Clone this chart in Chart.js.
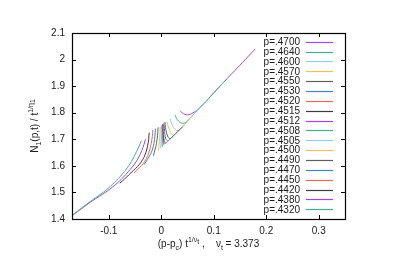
<!DOCTYPE html>
<html><head><meta charset="utf-8">
<script src="https://cdn.jsdelivr.net/npm/chart.js@4/dist/chart.umd.min.js"></script>
<style>html,body{margin:0;padding:0;background:#fff}canvas{display:block}</style>
</head><body>
<canvas id="c" width="397" height="280"></canvas>
<script>
// ---- data ----
const pLabels = ['p=.4700','p=.4640','p=.4600','p=.4570','p=.4550','p=.4530','p=.4520','p=.4515','p=.4512','p=.4508','p=.4505','p=.4500','p=.4490','p=.4470','p=.4450','p=.4420','p=.4380','p=.4320'];
const xTicks = [-0.1, 0, 0.1, 0.2, 0.3];
const xTickLabels = ['-0.1','0','0.1','0.2','0.3'];
const yTicks = [1.4, 1.5, 1.6, 1.7, 1.8, 1.9, 2.0, 2.1];
const yTickLabels = ['1.4','1.5','1.6','1.7','1.8','1.9','2','2.1'];

const x_4700 = [0.036,0.040,0.045,0.050,0.055,0.060,0.065,0.070,0.080,0.090,0.100,0.110,0.120,0.130,0.140,0.150,0.160,0.170,0.179];
const y_4700 = [1.808,1.799,1.794,1.792,1.794,1.799,1.805,1.812,1.832,1.853,1.875,1.896,1.917,1.938,1.958,1.979,2.000,2.021,2.040];
const x_4640 = [0.026,0.029,0.033,0.037,0.041,0.045,0.050,0.060,0.070,0.080,0.090,0.100,0.110,0.124];
const y_4640 = [1.792,1.779,1.768,1.762,1.760,1.762,1.770,1.790,1.811,1.832,1.853,1.875,1.896,1.925];
const x_4600 = [0.017,0.019,0.022,0.026,0.030,0.034,0.040,0.050,0.060,0.070,0.080,0.087];
const y_4600 = [1.777,1.762,1.748,1.738,1.733,1.735,1.746,1.768,1.790,1.811,1.832,1.847];
const x_4570 = [0.011,0.013,0.016,0.019,0.023,0.030,0.040,0.050,0.059];
const y_4570 = [1.767,1.750,1.733,1.720,1.715,1.726,1.746,1.768,1.788];
const x_4550 = [0.007,0.008,0.010,0.013,0.017,0.020,0.030,0.041];
const y_4550 = [1.765,1.745,1.725,1.708,1.702,1.707,1.726,1.748];
const x_4530 = [0.005,0.006,0.007,0.009,0.012,0.016,0.022];
const y_4530 = [1.762,1.740,1.718,1.700,1.694,1.699,1.711];
const x_4520 = [0.004,0.004,0.005,0.006,0.009,0.013];
const y_4520 = [1.758,1.735,1.712,1.695,1.686,1.693];
const x_4515 = [0.003,0.003,0.004,0.005,0.008];
const y_4515 = [1.756,1.730,1.705,1.688,1.684];
const x_4512 = [0.002,0.002,0.003,0.004,0.0055];
const y_4512 = [1.754,1.728,1.700,1.683,1.679];
const x_4508 = [0.001,0.001,0.0015,0.002];
const y_4508 = [1.752,1.725,1.698,1.672];
const x_4505 = [0.000,0.000,-0.0005,-0.001];
const y_4505 = [1.750,1.722,1.695,1.666];
const x_4500 = [-0.002,-0.0025,-0.0035,-0.0055];
const y_4500 = [1.748,1.720,1.690,1.658];
const x_4490 = [-0.006,-0.007,-0.009,-0.012,-0.015];
const y_4490 = [1.745,1.715,1.685,1.660,1.638];
const x_4470 = [-0.011,-0.012,-0.014,-0.017,-0.021,-0.026,-0.033];
const y_4470 = [1.740,1.712,1.685,1.660,1.642,1.625,1.604];
const x_4450 = [-0.016,-0.017,-0.019,-0.022,-0.026,-0.031,-0.037,-0.045,-0.052];
const y_4450 = [1.735,1.710,1.685,1.660,1.638,1.618,1.602,1.588,1.573];
const x_4420 = [-0.023,-0.024,-0.026,-0.029,-0.033,-0.038,-0.045,-0.053,-0.062,-0.070,-0.079];
const y_4420 = [1.725,1.700,1.675,1.652,1.632,1.615,1.598,1.583,1.566,1.550,1.535];
const x_4380 = [-0.030,-0.033,-0.037,-0.042,-0.048,-0.055,-0.063,-0.072,-0.082,-0.092,-0.103,-0.116,-0.130,-0.145,-0.160,-0.172];
const y_4380 = [1.700,1.680,1.658,1.636,1.615,1.596,1.578,1.558,1.538,1.522,1.505,1.488,1.470,1.449,1.427,1.409];
const x_4320 = [-0.038,-0.042,-0.047,-0.052,-0.057,-0.063,-0.070,-0.078,-0.085,-0.093,-0.101,-0.110,-0.120,-0.130,-0.140,-0.150,-0.160,-0.172];
const y_4320 = [1.695,1.675,1.654,1.634,1.616,1.597,1.579,1.560,1.545,1.530,1.516,1.501,1.487,1.473,1.459,1.444,1.429,1.410];

const seriesX = [x_4700,x_4640,x_4600,x_4570,x_4550,x_4530,x_4520,x_4515,x_4512,x_4508,x_4505,x_4500,x_4490,x_4470,x_4450,x_4420,x_4380,x_4320];
const seriesY = [y_4700,y_4640,y_4600,y_4570,y_4550,y_4530,y_4520,y_4515,y_4512,y_4508,y_4505,y_4500,y_4490,y_4470,y_4450,y_4420,y_4380,y_4320];

const palette = ['#a545dd','#3fb08c','#8ccdf1','#f0c060','#606060','#3a88c0','#e66a58','#3c3c3c'];

const datasets = pLabels.map((lab, i) => ({
  label: lab,
  data: seriesX[i].map((x, k) => ({x: x, y: seriesY[i][k]})),
  borderColor: palette[i % 8],
  backgroundColor: palette[i % 8],
  borderWidth: 1,
  pointRadius: 0,
  showLine: true,
  tension: 0.3,
  fill: false,
  order: pLabels.length - i
}));

const FONT = '"Liberation Sans", Arial, sans-serif';
const TXT = '#1a1a1a';

function drawRich(ctx, segs, cx, cy) {
  const big = 10, small = 7;
  let total = 0;
  const w = segs.map(s => {
    ctx.font = (s.m === 'n' ? big : small) + 'px ' + FONT;
    const ww = ctx.measureText(s.t).width;
    total += ww; return ww;
  });
  let x = cx - total / 2;
  ctx.textBaseline = 'alphabetic';
  ctx.textAlign = 'left';
  segs.forEach((s, i) => {
    let dy = 0;
    if (s.m === 'sub') dy = 3;
    else if (s.m === 'sup') dy = -5;
    else if (s.m === 'supsub') dy = -3;
    ctx.font = (s.m === 'n' ? big : small) + 'px ' + FONT;
    ctx.fillText(s.t, x, cy + dy);
    x += w[i];
  });
}

const decor = {
  id: 'decor',
  afterDraw(chart) {
    const ctx = chart.ctx;
    const a = chart.chartArea;
    const xs = chart.scales.x, ys = chart.scales.y;
    ctx.save();
    ctx.strokeStyle = '#000';
    ctx.lineWidth = 1;
    ctx.beginPath();
    xTicks.forEach(v => {
      const px = Math.round(xs.getPixelForValue(v)) + 0.5;
      ctx.moveTo(px, a.bottom); ctx.lineTo(px, a.bottom - 4);
      ctx.moveTo(px, a.top); ctx.lineTo(px, a.top + 4);
    });
    yTicks.forEach(v => {
      const py = Math.round(ys.getPixelForValue(v)) + 0.5;
      ctx.moveTo(a.left, py); ctx.lineTo(a.left + 4, py);
      ctx.moveTo(a.right, py); ctx.lineTo(a.right - 4, py);
    });
    ctx.stroke();
    ctx.lineWidth = 1.2;
    ctx.strokeRect(Math.round(a.left) + 0.5, Math.round(a.top) + 0.5, Math.round(a.right - a.left), Math.round(a.bottom - a.top));

    // legend
    ctx.font = '10px ' + FONT;
    ctx.fillStyle = TXT;
    ctx.textAlign = 'right';
    ctx.textBaseline = 'middle';
    chart.data.datasets.forEach((ds, i) => {
      const y = 41.7 + i * 9.86;
      ctx.fillText(ds.label, 300, y + 0.5);
      ctx.strokeStyle = ds.borderColor;
      ctx.lineWidth = 1.2;
      ctx.beginPath();
      ctx.moveTo(306, Math.round(y) + 0.5);
      ctx.lineTo(333, Math.round(y) + 0.5);
      ctx.stroke();
    });

    // axis titles
    ctx.fillStyle = TXT;
    const cxT = (a.left + a.right) / 2;
    drawRich(ctx, [
      {t:'(p-p', m:'n'}, {t:'c', m:'sub'}, {t:') t', m:'n'}, {t:'1/\u03BD', m:'sup'}, {t:'t', m:'supsub'},
      {t:' ,    \u03BD', m:'n'}, {t:'t', m:'sub'}, {t:' = 3.373', m:'n'}
    ], cxT, 247);
    ctx.save();
    ctx.translate(38, (a.top + a.bottom) / 2);
    ctx.rotate(-Math.PI / 2);
    drawRich(ctx, [
      {t:'N', m:'n'}, {t:'1', m:'sub'}, {t:'(p,t) / t', m:'n'}, {t:'1/\u03B7', m:'sup'}, {t:'1', m:'supsub'}
    ], 0, 0);
    ctx.restore();
    ctx.restore();
  }
};

new Chart(document.getElementById('c'), {
  type: 'scatter',
  data: { datasets: datasets },
  options: {
    responsive: false,
    animation: false,
    devicePixelRatio: 1,
    layout: { padding: { left: 0, right: 52, top: 33, bottom: 0 } },
    plugins: { legend: { display: false }, tooltip: { enabled: false } },
    scales: {
      x: {
        type: 'linear', min: -0.17, max: 0.35,
        grid: { display: false, drawTicks: false },
        border: { display: false },
        afterBuildTicks: s => { s.ticks = xTicks.map(v => ({ value: v })); },
        afterFit: s => { s.height = 61; },
        ticks: {
          padding: 6, color: TXT, font: { family: FONT, size: 10 },
          callback: (v) => { const k = xTicks.findIndex(t => Math.abs(t - v) < 1e-9); return k >= 0 ? xTickLabels[k] : ''; }
        }
      },
      y: {
        type: 'linear', min: 1.4, max: 2.1,
        grid: { display: false, drawTicks: false },
        border: { display: false },
        afterBuildTicks: s => { s.ticks = yTicks.map(v => ({ value: v })); },
        afterFit: s => { s.width = 72; },
        ticks: {
          padding: 7, color: TXT, font: { family: FONT, size: 10 },
          callback: (v) => { const k = yTicks.findIndex(t => Math.abs(t - v) < 1e-9); return k >= 0 ? yTickLabels[k] : ''; }
        }
      }
    }
  },
  plugins: [decor]
});
</script>
</body></html>
